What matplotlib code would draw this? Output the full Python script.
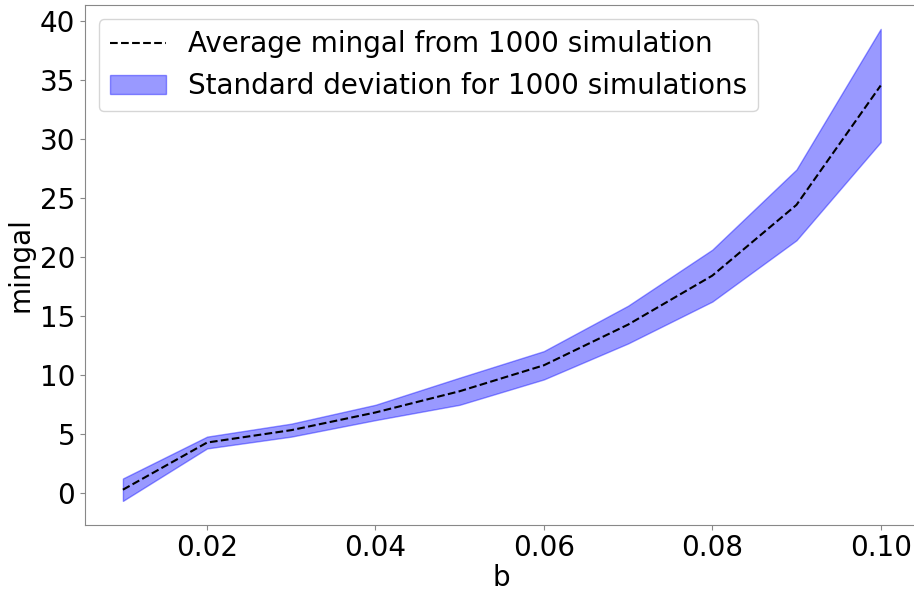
import numpy as np
import matplotlib
matplotlib.use("Agg")
import matplotlib.pyplot as plt

b = [0.01, 0.02, 0.03, 0.04, 0.05, 0.06, 0.07, 0.08, 0.09, 0.10]
mean_mingal = [0.3, 4.3, 5.35, 6.85, 8.65, 10.85, 14.3, 18.45, 24.45, 34.57]
std_mingal = [0.95, 0.5, 0.55, 0.65, 1.15, 1.2, 1.6, 2.2, 3.0, 4.8]

mean_arr = np.array(mean_mingal)
std_arr = np.array(std_mingal)

fig = plt.figure(figsize=(9.14, 5.90), dpi=100)
ax = fig.add_axes([0.093, 0.111, 0.912, 0.880])

ax.plot(b, mean_arr, "k--", linewidth=1.5, label="Average mingal from 1000 simulation")
ax.fill_between(b, mean_arr - std_arr, mean_arr + std_arr, color="blue", alpha=0.4,
                label="Standard deviation for 1000 simulations")

ax.set_xlabel("b", fontsize=20, labelpad=1)
ax.set_ylabel("mingal", fontsize=20)
ax.tick_params(labelsize=20, color="#888888")
for spine in ax.spines.values():
    spine.set_color("#888888")
ax.set_xticks([0.02, 0.04, 0.06, 0.08, 0.10])
ax.legend(fontsize=20, loc="upper left")

fig.savefig("out.png", dpi=100)
